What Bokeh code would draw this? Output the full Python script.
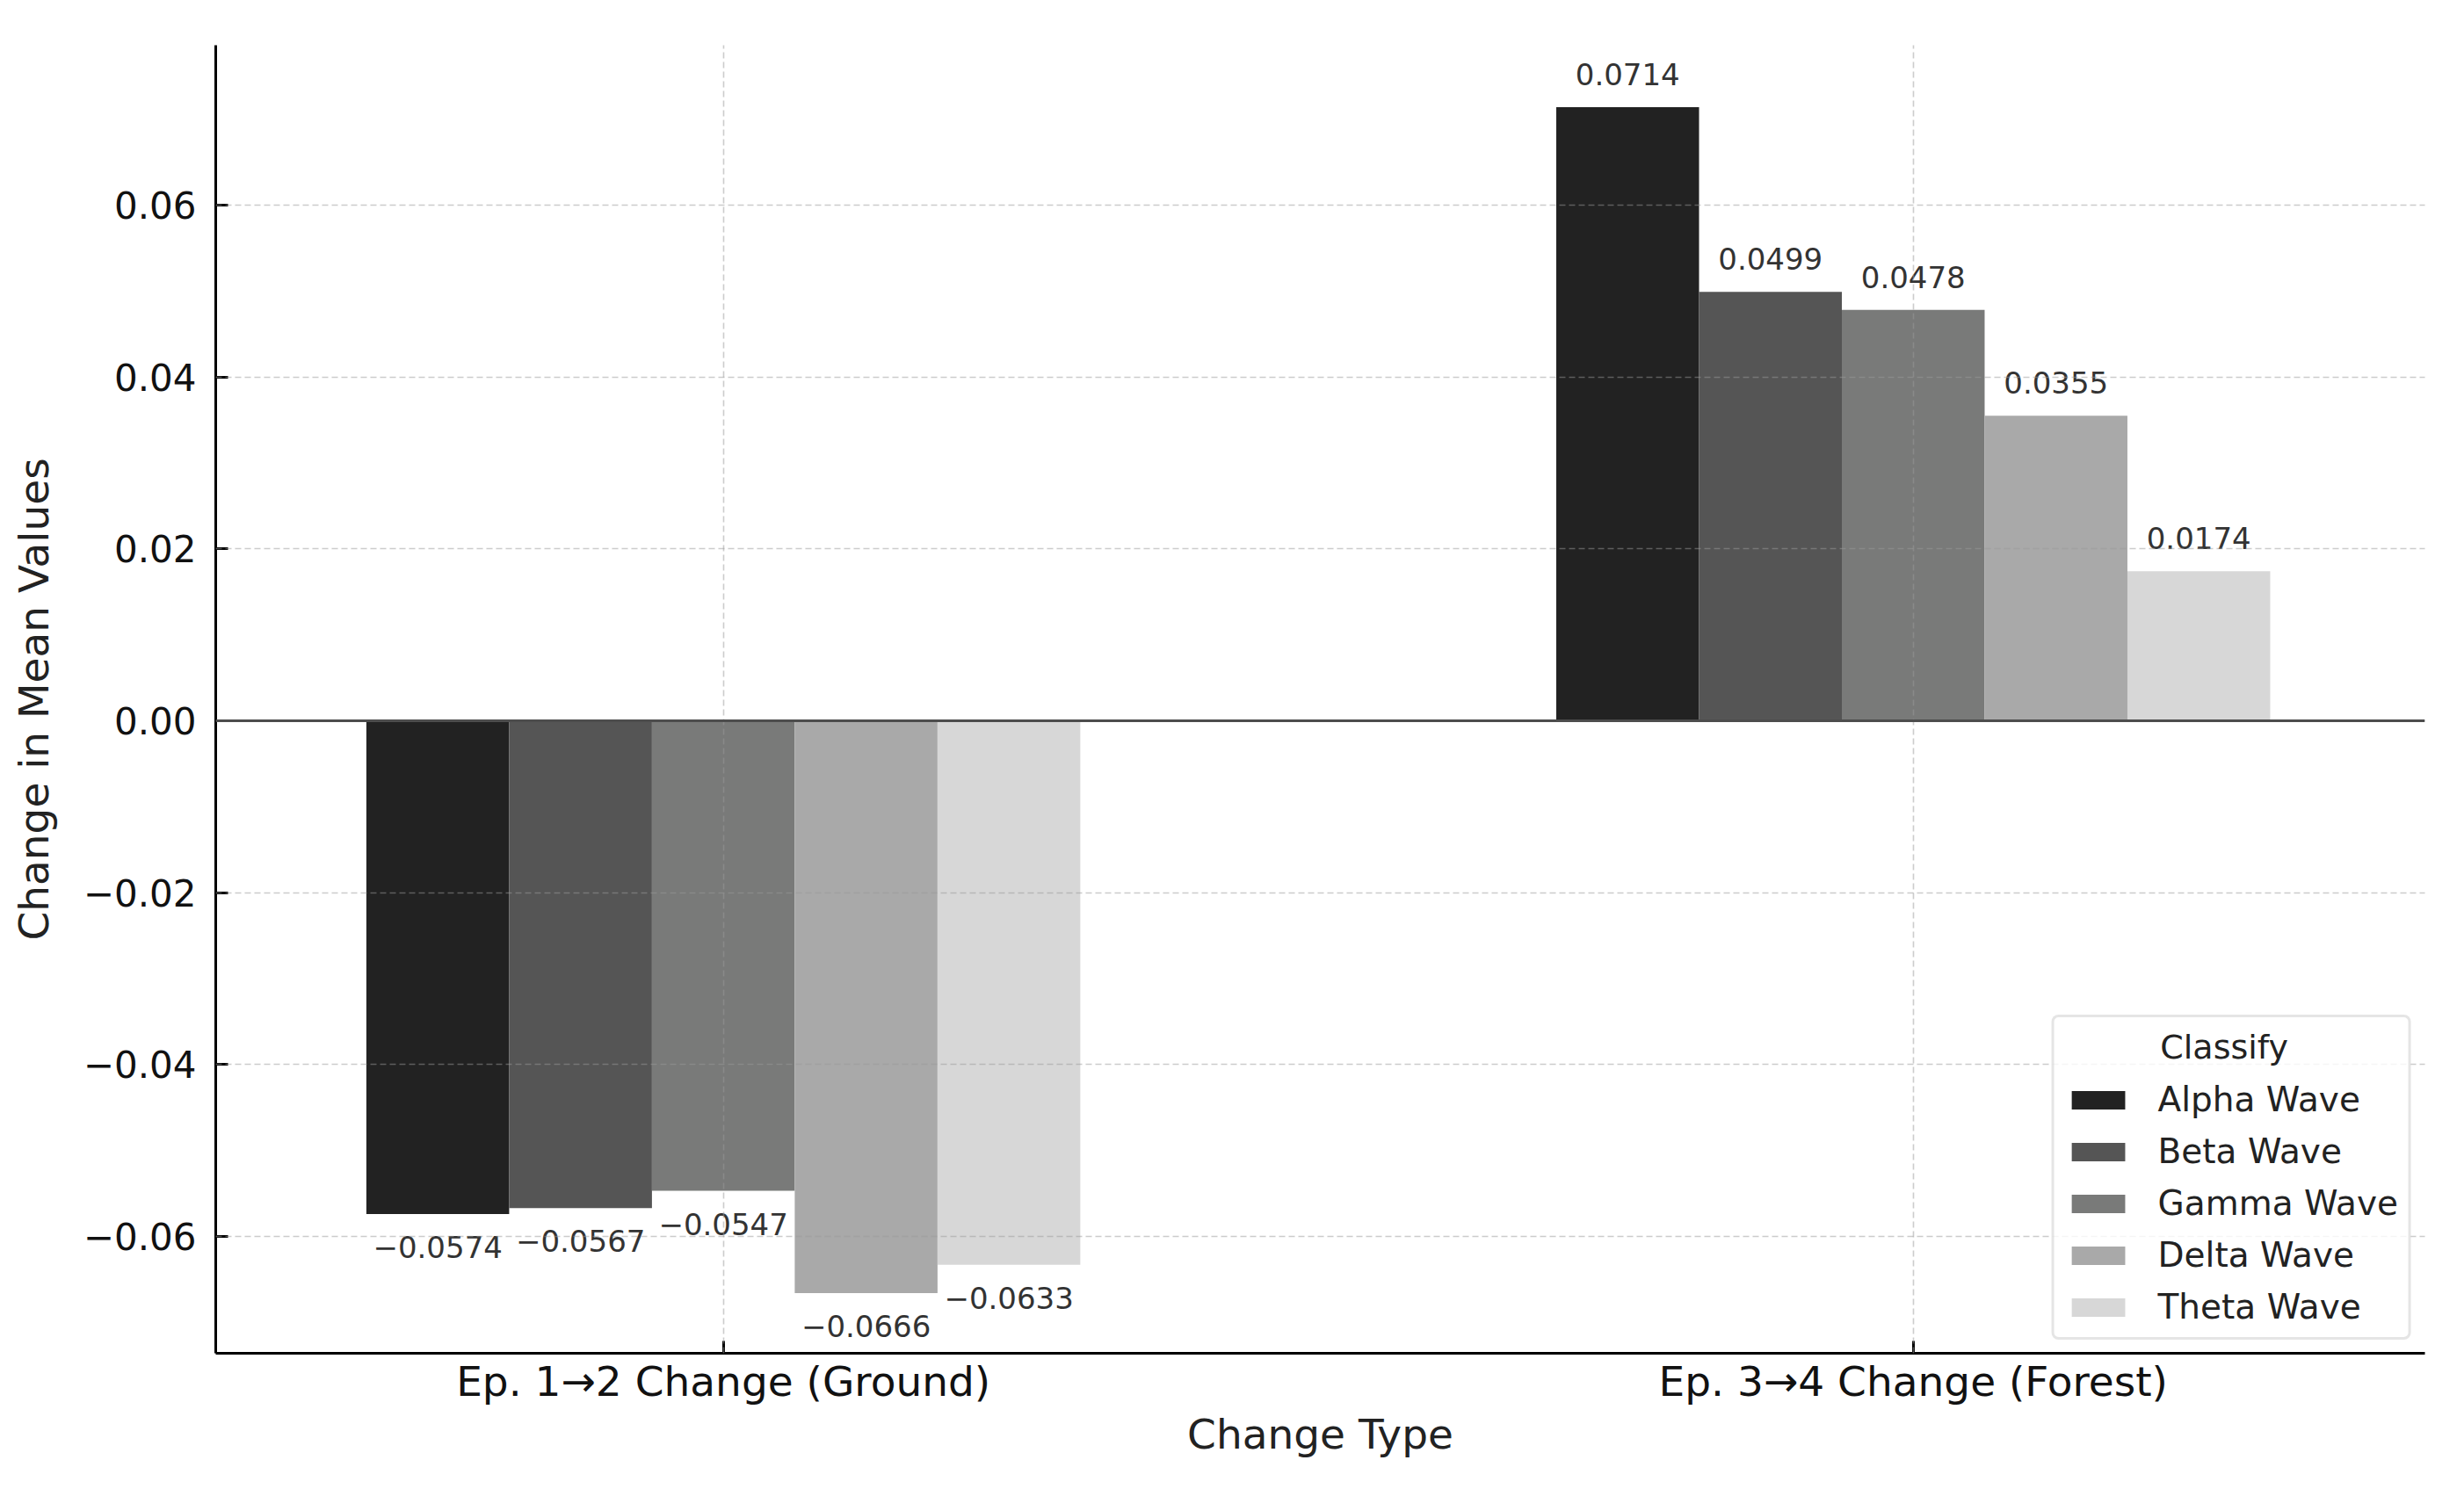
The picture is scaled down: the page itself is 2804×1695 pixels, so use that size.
from bokeh.plotting import figure
from bokeh.models import ColumnDataSource, FixedTicker, Span, Legend, LegendItem, Range1d
from bokeh.transform import dodge
from bokeh.core.properties import value
from bokeh.embed import file_html
from bokeh.resources import INLINE

categories = ["Ep. 1\u21922 Change (Ground)", "Ep. 3\u21924 Change (Forest)"]
waves = ["Alpha Wave", "Beta Wave", "Gamma Wave", "Delta Wave", "Theta Wave"]
alpha_vals = [-0.0574, 0.0714]
beta_vals = [-0.0567, 0.0499]
gamma_vals = [-0.0547, 0.0478]
delta_vals = [-0.0666, 0.0355]
theta_vals = [-0.0633, 0.0174]
series = [alpha_vals, beta_vals, gamma_vals, delta_vals, theta_vals]
colors = ["#222222", "#555555", "#797a79", "#a9a9a9", "#d7d7d7"]
y_ticks = [-0.06, -0.04, -0.02, 0.0, 0.02, 0.04, 0.06]
legend_title = "Classify"

FONT = "DejaVu Sans"
BAR_W = 0.12

p = figure(width=2788, height=1679,
           x_range=Range1d(-0.4266, 1.430), y_range=Range1d(-0.0736, 0.0786),
           output_backend="svg", toolbar_location=None,
           min_border_left=245, min_border_right=29, min_border_top=51, min_border_bottom=139)
p.outline_line_color = None
p.background_fill_color = "white"

items = []
for j, (name, vals) in enumerate(zip(waves, series)):
    off = (j - 2) * BAR_W
    src = ColumnDataSource(dict(
        x=list(range(len(categories))),
        top=vals,
        label=[f"{v:.4f}".replace("-", "\u2212") for v in vals],
        yoff=[-25 if v >= 0 else 25 for v in vals],
        base=["bottom" if v >= 0 else "top" for v in vals],
    ))
    r = p.vbar(x=dodge("x", off, range=p.x_range), top="top", bottom=0, width=BAR_W,
               fill_color=colors[j], line_color=None, source=src)
    p.text(x=dodge("x", off, range=p.x_range), y="top", text="label", y_offset="yoff",
           text_baseline="base", text_align="center", text_font=value(FONT),
           text_font_size="34px", text_color="#333333", source=src)
    items.append(LegendItem(label=name, renderers=[r]))

zero = Span(location=0, dimension="width", line_color="#4d4d4d", line_width=3)
p.add_layout(zero)

# axes
p.xaxis.ticker = FixedTicker(ticks=list(range(len(categories))))
p.xaxis.major_label_overrides = {i: c for i, c in enumerate(categories)}
p.yaxis.ticker = FixedTicker(ticks=y_ticks)
p.yaxis.major_label_overrides = {float(t): f"{t:.2f}".replace("-", "\u2212") for t in y_ticks}
p.xaxis.axis_label = "Change Type"
p.yaxis.axis_label = "Change in Mean Values"
for ax in (p.xaxis, p.yaxis):
    ax.axis_line_color = "black"
    ax.axis_line_width = 3
    ax.major_tick_in = 14
    ax.major_tick_out = 0
    ax.major_tick_line_width = 3
    ax.minor_tick_line_color = None
    ax.axis_label_text_font = FONT
    ax.axis_label_text_font_style = "normal"
    ax.axis_label_text_font_size = "47px"
    ax.axis_label_text_color = "#222222"
    ax.major_label_text_font = FONT
    ax.major_label_text_color = "#111111"
p.xaxis.major_label_text_font_size = "47px"
p.yaxis.major_label_text_font_size = "42px"
p.xaxis.major_label_standoff = 4
p.yaxis.major_label_standoff = 22
p.xaxis.axis_label_standoff = 2
p.yaxis.axis_label_standoff = 26

for g in (p.xgrid, p.ygrid):
    g.grid_line_color = "#999999"
    g.grid_line_alpha = 0.5
    g.grid_line_dash = "7 4"
    g.grid_line_width = 1.6
    g.level = "annotation"

# legend title centred over the legend body (non-breaking spaces as indent)
legend = Legend(items=items, location="bottom_right", title="\u00a0" * 9 + legend_title)
legend.title_text_font = FONT
legend.title_text_font_size = "38px"
legend.title_text_font_style = "normal"
legend.title_text_color = "#222222"
legend.title_standoff = 15
legend.label_text_font = FONT
legend.label_text_font_size = "39px"
legend.label_text_color = "#222222"
legend.glyph_width = 76
legend.glyph_height = 26
legend.label_standoff = 30
legend.spacing = 14
legend.padding = 12
legend.margin = 15
legend.border_line_color = "#cccccc"
legend.border_line_width = 3
legend.background_fill_alpha = 0.8
try:
    legend.border_radius = 8
except Exception:
    pass
p.add_layout(legend)

open("out.html", "w").write(file_html(p, INLINE))
